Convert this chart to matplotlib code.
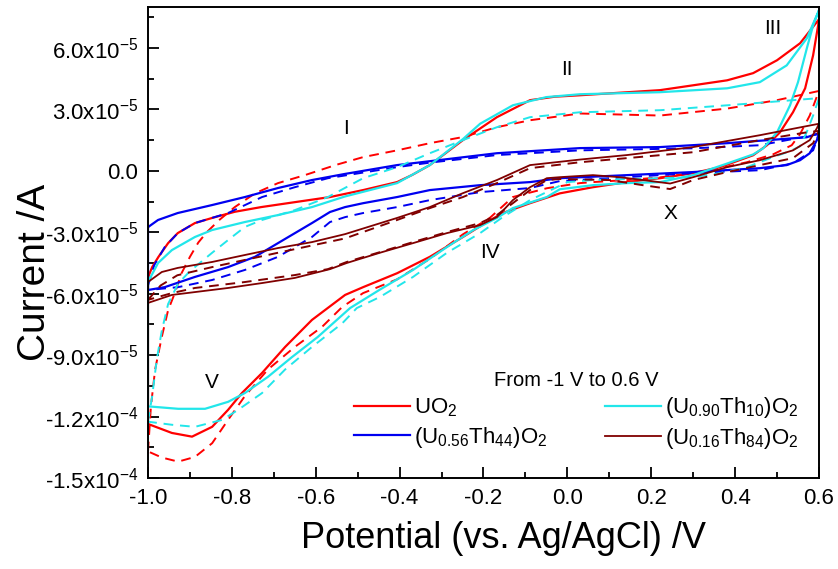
import numpy as np
import matplotlib.pyplot as plt
from matplotlib.ticker import FixedLocator, MultipleLocator

plt.rcParams['font.family'] = ['Liberation Sans', 'DejaVu Sans']
plt.rcParams['mathtext.fontset'] = 'custom'
plt.rcParams['mathtext.rm'] = 'Liberation Sans'
plt.rcParams['mathtext.it'] = 'Liberation Sans:italic'
plt.rcParams['mathtext.default'] = 'regular'

SCALE = 1e-5  # currents below are in units of 1e-5 A

# UO2, first (solid) and second (dashed) cycle: forward sweep then back sweep
UO2_SOLID_V = [-1.0, -0.99, -0.975, -0.952, -0.929, -0.888, -0.847, -0.793, -0.73, -0.65, -0.566, -0.487,
               -0.406, -0.37, -0.328, -0.249, -0.168, -0.089, -0.03, 0.03, 0.221, 0.381, 0.443, 0.50, 0.555, 0.6,
               0.598, 0.586, 0.567, 0.538, 0.507, 0.476, 0.443, 0.364, 0.30, 0.221, 0.142, 0.061, -0.018,
               -0.089, -0.154, -0.192, -0.249, -0.328, -0.406, -0.487, -0.53, -0.609, -0.673, -0.728,
               -0.776, -0.809, -0.847, -0.895, -0.943, -1.0, -1.0]
UO2_SOLID_I = [-5.2, -4.7, -4.2, -3.53, -3.04, -2.55, -2.3, -2.0, -1.77, -1.53, -1.28, -0.94,
               -0.55, -0.2, 0.28, 1.5, 2.62, 3.45, 3.62, 3.69, 3.94, 4.42, 4.77, 5.4, 6.23, 7.4,
               7.1, 5.64, 4.03, 2.86, 1.88, 1.25, 0.76, 0.18, -0.11, -0.36, -0.55, -0.8, -1.1,
               -1.58, -2.06, -2.5, -3.23, -4.2, -5.0, -5.68, -6.06, -7.28, -8.6, -9.87,
               -10.85, -11.67, -12.5, -12.98, -12.8, -12.36, -5.2]
UO2_DASH_V = [-1.0, -0.993, -0.983, -0.967, -0.952, -0.936, -0.92, -0.90, -0.88, -0.86, -0.83, -0.793,
              -0.745, -0.69, -0.626, -0.55, -0.487, -0.406, -0.328, -0.249, -0.168, -0.089, 0.03, 0.221,
              0.381, 0.5, 0.6, 0.578, 0.555, 0.535, 0.49, 0.428, 0.364, 0.3, 0.221, 0.142, 0.061, 0.03,
              -0.018, -0.049, -0.13, -0.185, -0.249, -0.328, -0.406, -0.487, -0.537, -0.585, -0.65,
              -0.714, -0.769, -0.809, -0.847, -0.888, -0.928, -0.967, -1.0]
UO2_DASH_I = [-13.7, -11.5, -9.7, -8.1, -6.8, -5.97, -5.0, -4.2, -3.5, -3.0, -2.4, -1.77,
              -1.1, -0.6, -0.21, 0.3, 0.67, 1.0, 1.35, 1.65, 2.13, 2.47, 2.8, 2.7,
              3.04, 3.45, 3.9, 2.7, 1.8, 1.25, 0.8, 0.42, 0.13, -0.11, -0.32, -0.45, -0.55, -0.6,
              -0.75, -0.85, -1.28, -2.3, -3.1, -4.3, -5.3, -5.97, -6.65, -7.62, -8.6,
              -9.7, -11.0, -12.16, -13.3, -13.97, -14.2, -14.0, -13.7]

# (U0.90Th10)O2
U90_SOLID_V = [-1.0, -0.976, -0.943, -0.888, -0.847, -0.769, -0.69, -0.609, -0.53, -0.406, -0.328, -0.249,
               -0.208, -0.13, -0.05, 0.03, 0.221, 0.381, 0.459, 0.523, 0.571, 0.6,
               0.586, 0.571, 0.55, 0.531, 0.5, 0.467, 0.443, 0.38, 0.30, 0.221, 0.142, 0.061, -0.018,
               -0.049, -0.13, -0.168, -0.225, -0.287, -0.368, -0.447, -0.518, -0.595, -0.657, -0.714,
               -0.769, -0.809, -0.864, -0.928, -1.0, -1.0]
U90_SOLID_I = [-5.43, -4.5, -3.87, -3.23, -2.89, -2.5, -2.16, -1.77, -1.25, -0.6, 0.28, 1.55,
               2.3, 3.2, 3.6, 3.74, 3.84, 4.03, 4.33, 5.15, 6.47, 7.84,
               7.1, 5.98, 4.33, 3.2, 1.88, 1.1, 0.8, 0.35, -0.21, -0.55, -0.6, -0.7, -0.9,
               -1.28, -1.82, -2.3, -2.9, -3.72, -4.84, -5.8, -6.7, -8.11, -9.1, -10.06,
               -10.85, -11.28, -11.62, -11.62, -11.5, -5.43]
U90_DASH_V = [-1.0, -0.99, -0.979, -0.967, -0.952, -0.928, -0.90, -0.847, -0.809, -0.769, -0.728, -0.65,
              -0.571, -0.487, -0.406, -0.328, -0.249, -0.168, -0.089, 0.03, 0.221, 0.381, 0.538, 0.6,
              0.586, 0.571, 0.555, 0.53, 0.49, 0.428, 0.364, 0.3, 0.221, 0.061, 0.0, -0.089, -0.154,
              -0.208, -0.287, -0.368, -0.447, -0.502, -0.537, -0.609, -0.673, -0.728, -0.785, -0.823,
              -0.888, -0.943, -1.0]
U90_DASH_I = [-12.25, -11.0, -9.2, -7.8, -6.5, -5.5, -4.9, -4.0, -3.38, -2.74, -2.4, -1.92,
              -1.28, -0.36, 0.18, 0.86, 1.5, 2.13, 2.62, 2.86, 2.96, 3.2, 3.45, 3.55,
              2.7, 1.9, 1.2, 0.95, 0.67, 0.18, -0.11, -0.31, -0.36, -0.45, -0.55, -1.43, -2.26,
              -3.04, -4.0, -5.18, -6.16, -6.7, -7.45, -8.6, -9.7, -10.85, -11.67, -12.16,
              -12.5, -12.4, -12.25]

# (U0.56Th44)O2
U56_SOLID_V = [-1.0, -0.976, -0.929, -0.847, -0.769, -0.69, -0.609, -0.53, -0.406, -0.328, -0.168, 0.03,
               0.221, 0.381, 0.571, 0.6, 0.595, 0.578, 0.555, 0.523, 0.459, 0.30, 0.142, -0.018,
               -0.089, -0.208, -0.328, -0.406, -0.487, -0.53, -0.566, -0.609, -0.69, -0.745, -0.809,
               -0.888, -0.96, -1.0, -1.0]
U56_SOLID_I = [-2.75, -2.4, -2.06, -1.67, -1.28, -0.84, -0.45, -0.15, 0.28, 0.47, 0.86, 1.11,
               1.16, 1.35, 1.64, 1.84, 1.5, 0.86, 0.52, 0.28, 0.13, -0.06, -0.21, -0.36,
               -0.55, -0.7, -0.94, -1.28, -1.58, -1.77, -2.01, -2.55, -3.53, -4.2, -4.7,
               -5.18, -5.68, -5.82, -2.75]
U56_DASH_V = [-1.0, -0.985, -0.96, -0.929, -0.888, -0.809, -0.728, -0.65, -0.571, -0.406, -0.328, -0.168,
              0.03, 0.3, 0.459, 0.586, 0.6, 0.586, 0.538, 0.459, 0.3, 0.142, -0.018, -0.089, -0.208,
              -0.328, -0.406, -0.487, -0.53, -0.566, -0.609, -0.69, -0.769, -0.847, -0.928, -1.0]
U56_DASH_I = [-5.6, -4.6, -3.72, -3.04, -2.55, -2.06, -1.28, -0.8, -0.36, 0.18, 0.4, 0.77,
              1.0, 1.1, 1.25, 1.74, 1.8, 1.0, 0.37, 0.03, -0.11, -0.31, -0.5, -0.84, -1.04,
              -1.43, -1.77, -2.06, -2.26, -2.5, -3.23, -4.2, -4.84, -5.33, -5.68, -5.82]

# (U0.16Th84)O2
U16_SOLID_V = [-1.0, -0.967, -0.929, -0.847, -0.769, -0.69, -0.609, -0.53, -0.406, -0.328, -0.249, -0.168,
               -0.089, 0.03, 0.142, 0.30, 0.459, 0.6, 0.595, 0.578, 0.538, 0.459, 0.381, 0.3, 0.245,
               0.18, 0.125, 0.061, -0.018, -0.049, -0.089, -0.13, -0.168, -0.208, -0.287, -0.368,
               -0.447, -0.526, -0.566, -0.65, -0.728, -0.809, -0.888, -0.943, -1.0, -1.0]
U16_SOLID_I = [-5.43, -4.94, -4.74, -4.45, -4.11, -3.77, -3.48, -3.09, -2.3, -1.77, -1.09, -0.45,
               0.28, 0.55, 0.77, 1.16, 1.74, 2.3, 2.08, 1.5, 1.0, 0.52, 0.18, -0.31, -0.62,
               -0.45, -0.31, -0.21, -0.31, -0.36, -0.8, -1.43, -2.26, -2.65, -3.04, -3.53,
               -4.0, -4.5, -4.8, -5.23, -5.48, -5.72, -5.92, -6.06, -6.45, -5.43]
U16_DASH_V = [-1.0, -0.97, -0.93, -0.847, -0.69, -0.53, -0.406, -0.328, -0.249, -0.168, -0.089, 0.03,
              0.142, 0.3, 0.459, 0.571, 0.6, 0.586, 0.538, 0.459, 0.381, 0.3, 0.245, 0.18, 0.1, -0.018,
              -0.049, -0.089, -0.13, -0.168, -0.208, -0.287, -0.368, -0.447, -0.526, -0.571, -0.65,
              -0.769, -0.888, -0.943, -1.0]
U16_DASH_I = [-6.3, -5.6, -5.1, -4.7, -4.0, -3.3, -2.4, -1.82, -1.28, -0.6, 0.13, 0.42,
              0.62, 0.91, 1.5, 1.88, 1.95, 1.35, 0.62, 0.28, -0.06, -0.45, -0.89, -0.7, -0.45, -0.4,
              -0.45, -0.94, -1.58, -2.16, -2.55, -2.99, -3.48, -3.97, -4.45, -4.8, -5.09,
              -5.43, -5.72, -5.97, -6.3]

LABELS = ['UO$_2$', '(U$_{0.56}$Th$_{44}$)O$_2$', '(U$_{0.90}$Th$_{10}$)O$_2$', '(U$_{0.16}$Th$_{84}$)O$_2$']
COLORS = ['#ff0000', '#0000f0', '#22e6ea', '#800000']

PEAK_NAMES = ['I', 'II', 'III', 'IV', 'V', 'X']
PEAK_V = [-0.528, 0.0, 0.49, -0.185, -0.847, 0.245]
PEAK_I = [2.08, 4.96, 6.96, -3.97, -10.36, -2.06]

Y_TICKS = [6.0, 3.0, 0.0, -3.0, -6.0, -9.0, -12.0, -15.0]
Y_TICK_LABELS = ['6.0x10$^{-5}$', '3.0x10$^{-5}$', '0.0', '-3.0x10$^{-5}$', '-6.0x10$^{-5}$',
                 '-9.0x10$^{-5}$', '-1.2x10$^{-4}$', '-1.5x10$^{-4}$']
X_TICKS = [-1.0, -0.8, -0.6, -0.4, -0.2, 0.0, 0.2, 0.4, 0.6]

fig = plt.figure(figsize=(8.38, 5.69), dpi=100)
ax = fig.add_axes([0.1766, 0.1599, 0.8007, 0.8278])

curves = [
    (UO2_SOLID_V, UO2_SOLID_I, UO2_DASH_V, UO2_DASH_I),
    (U56_SOLID_V, U56_SOLID_I, U56_DASH_V, U56_DASH_I),
    (U90_SOLID_V, U90_SOLID_I, U90_DASH_V, U90_DASH_I),
    (U16_SOLID_V, U16_SOLID_I, U16_DASH_V, U16_DASH_I),
]
handles = []
for (sv, si, dv, di), col, lab in zip(curves, COLORS, LABELS):
    lw = 1.3 if col == '#800000' else 1.6
    h, = ax.plot(sv, np.array(si) * SCALE, '-', color=col, lw=lw, label=lab)
    ax.plot(dv, np.array(di) * SCALE, '--', color=col, lw=1.4, dashes=(5, 3.5))
    handles.append(h)

for name, v, i in zip(PEAK_NAMES, PEAK_V, PEAK_I):
    ax.text(v, i * SCALE, name, fontsize=15, ha='center', va='center')

ax.set_xlim(-1.0, 0.6)
ax.set_ylim(-15e-5, 8e-5)
ax.xaxis.set_major_locator(FixedLocator(X_TICKS))
ax.xaxis.set_minor_locator(MultipleLocator(0.1))
ax.set_xticklabels(['%.1f' % t for t in X_TICKS])
ax.yaxis.set_major_locator(FixedLocator(np.array(Y_TICKS) * SCALE))
ax.yaxis.set_minor_locator(MultipleLocator(1.5e-5))
ax.set_yticklabels(Y_TICK_LABELS)
ax.tick_params(which='both', direction='in', top=False, right=False, labelsize=16, width=1.3)
ax.tick_params(which='major', length=8, pad=7)
ax.tick_params(which='minor', length=4)
for sp in ax.spines.values():
    sp.set_linewidth(1.4)

ax.set_xlabel('Potential (vs. Ag/AgCl) /V', fontsize=26, labelpad=9)
ax.xaxis.label.set_x(0.53)
ax.set_ylabel('Current /A', fontsize=28, labelpad=-6)
ax.yaxis.label.set_y(0.437)

leg = ax.legend(handles=handles, ncol=2, frameon=False, fontsize=16, title='From -1 V to 0.6 V',
                title_fontsize=14.5, loc='lower right', bbox_to_anchor=(1.0, 0.015),
                handlelength=2.5, columnspacing=2.6, labelspacing=0.25, handletextpad=0.2)

fig.savefig('out.png', dpi=100)
